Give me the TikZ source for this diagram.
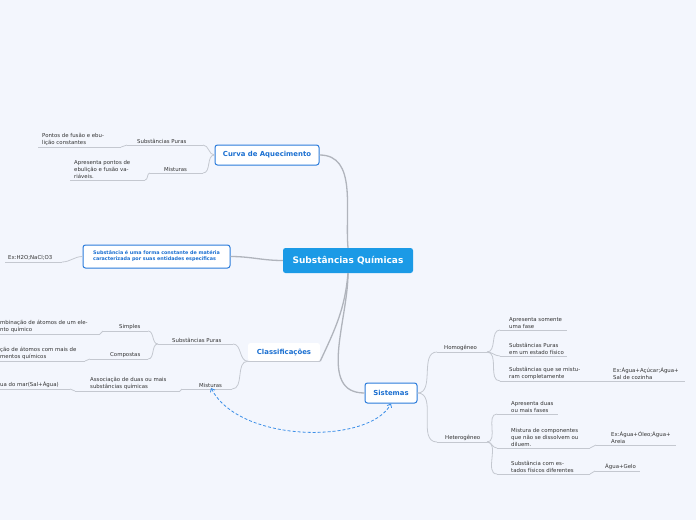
\documentclass[tikz,border=0pt]{standalone}
\usepackage{fontspec}
\setmainfont{DejaVu Sans}
\usetikzlibrary{arrows.meta}
\definecolor{bg}{HTML}{F3F6FD}
\definecolor{mainblue}{HTML}{1B9AE6}
\definecolor{txtblue}{HTML}{1A6FD1}
\definecolor{bordblue}{HTML}{2A7BDB}
\definecolor{linegray}{HTML}{C4C8D0}
\definecolor{trunkgray}{HTML}{B0B4BC}
\definecolor{txt}{HTML}{333333}
\definecolor{dashblue}{HTML}{3C8FE8}
\begin{document}
\begin{tikzpicture}[x=1pt,y=-1pt,
 lbl/.style={font=\fontsize{5.4}{6.9}\selectfont, text=txt, align=left, inner sep=0pt, anchor=south west},
 uline/.style={draw=linegray, line width=0.8pt},
 trunk/.style={draw=trunkgray, line width=1.3pt},
 topic/.style={draw=bordblue, line width=1pt, fill=white, rounded corners=2.5pt, text=txtblue, font=\bfseries\fontsize{6.9}{8}\selectfont, inner sep=0pt},
 dasharrow/.style={draw=dashblue, line width=0.8pt, dash pattern=on 3pt off 2pt, {Straight Barb[length=3pt,width=5pt]}-{Straight Barb[length=3pt,width=5pt]}}
]
\fill[bg] (0,0) rectangle (696,520);
\useasboundingbox (0,0) rectangle (696,520);

% ---- main topics
\node[fill=mainblue, rounded corners=2.5pt, minimum width=130pt, minimum height=25pt, text=white, font=\bfseries\fontsize{9}{10}\selectfont, inner sep=0pt] (root) at (348,260.5) {Substâncias Químicas};
\node[topic, minimum width=104pt, minimum height=20pt] (curva) at (267,155) {Curva de Aquecimento};
\node[topic, minimum width=147pt, minimum height=23pt, font=\bfseries\fontsize{4.85}{5.9}\selectfont, align=left] (def) at (156.5,256.5) {Substância é uma forma constante de matéria\\caracterizada por suas entidades específicas};
\node[fill=white, rounded corners=2.5pt, minimum width=72pt, minimum height=18pt, text=txtblue, font=\bfseries\fontsize{6.9}{8}\selectfont, inner sep=0pt] (class) at (284,352) {Classificações};
\draw[uline] (class.south west) -- (class.south east);
\node[topic, minimum width=52pt, minimum height=20pt] (sist) at (391,393) {Sistemas};

\draw[trunk] (root.north) to[out=95,in=0] (curva.east);
\draw[trunk] (root.west) to[out=180,in=0] (def.east);
\draw[trunk] (root.south) to[out=-95,in=65] (class.south east);
\draw[trunk] (root.south) to[out=-90,in=180] (sist.west);

% ---- Curva de Aquecimento branch
\coordinate (sp1a) at (127,145); \coordinate (sp1b) at (203,145);
\node[lbl] (sp1) at (137,143.7) {Substâncias Puras};
\coordinate (mis1a) at (150,173); \coordinate (mis1b) at (203,173);
\node[lbl] (mis1) at (164,171.7) {Misturas};
\coordinate (pfa) at (38,147); \coordinate (pfb) at (121,147);
\node[lbl] (pf) at (42,145.7) {Pontos de fusão e ebu-\\lição constantes};
\coordinate (apa) at (70,180); \coordinate (apb) at (145,180);
\node[lbl] (ap) at (74,178.7) {Apresenta pontos de\\ebulição e fusão va-\\riáveis.};
\draw[uline] (sp1a) -- (sp1b);
\draw[uline] (mis1a) -- (mis1b);
\draw[uline] (pfa) -- (pfb);
\draw[uline] (apa) -- (apb);
\draw[uline] (curva.west) to[out=180,in=0] (sp1b);
\draw[uline] (curva.west) to[out=180,in=0] (mis1b);
\draw[uline] (sp1a) to[out=180,in=0] (pfb);
\draw[uline] (mis1a) to[out=180,in=0] (apb);

% ---- definition branch
\coordinate (exa) at (5,262); \coordinate (exb) at (62,262);
\node[lbl] (ex) at (8,260.7) {Ex:H2O;NaCl;O3};
\draw[uline] (exa) -- (exb);
\draw[uline] (def.west) to[out=180,in=0] (exb);

% ---- Classificacoes branch
\coordinate (sp2a) at (158,344); \coordinate (sp2b) at (233,344);
\node[lbl] (sp2) at (172,342.7) {Substâncias Puras};
\coordinate (mis2a) at (182,389); \coordinate (mis2b) at (232,389);
\node[lbl] (mis2) at (199,387.7) {Misturas};
\coordinate (simpa) at (103,331); \coordinate (simpb) at (148,331);
\node[lbl] (simp) at (119,329.7) {Simples};
\coordinate (compa) at (90,359); \coordinate (compb) at (148,359);
\node[lbl] (comp) at (110,357.7) {Compostas};
\coordinate (simpca) at (0,334); \coordinate (simpcb) at (100,334);
\node[lbl] (simpc) at (0,332.7) {mbinação de átomos de um ele-\\nto químico};
\coordinate (compca) at (0,361); \coordinate (compcb) at (85,361);
\node[lbl] (compc) at (0,359.7) {ção de átomos com mais de\\mentos químicos};
\coordinate (asa) at (75,391); \coordinate (asb) at (180,391);
\node[lbl] (as) at (90,389.7) {Associação de duas ou mais\\substâncias químicas};
\coordinate (agma) at (0,389); \coordinate (agmb) at (70,389);
\node[lbl] (agm) at (0,387.7) {ua do mar(Sal+Água)};
\foreach \a/\b in {sp2a/sp2b,mis2a/mis2b,simpa/simpb,compa/compb,simpca/simpcb,compca/compcb,asa/asb,agma/agmb}
  \draw[uline] (\a) -- (\b);
\draw[uline] (class.south west) to[out=180,in=0] (sp2b);
\draw[uline] (class.south west) to[out=180,in=0] (mis2b);
\draw[uline] (sp2a) to[out=180,in=0] (simpb);
\draw[uline] (sp2a) to[out=180,in=0] (compb);
\draw[uline] (simpa) to[out=180,in=0] (simpcb);
\draw[uline] (compa) to[out=180,in=0] (compcb);
\draw[uline] (mis2a) to[out=180,in=0] (asb);
\draw[uline] (asa) to[out=180,in=0] (agmb);

% ---- Sistemas branch
\coordinate (homa) at (437,352); \coordinate (homb) at (487,352);
\node[lbl] (hom) at (444,350.7) {Homogêneo};
\coordinate (heta) at (437,442); \coordinate (hetb) at (487,442);
\node[lbl] (het) at (445,440.7) {Heterogêneo};
\coordinate (a1a) at (500,330); \coordinate (a1b) at (567,330);
\node[lbl] (a1) at (509,328.7) {Apresenta somente\\uma fase};
\coordinate (a2a) at (500,356); \coordinate (a2b) at (567,356);
\node[lbl] (a2) at (509,354.7) {Substâncias Puras\\em um estado físico};
\coordinate (a3a) at (500,381); \coordinate (a3b) at (585,381);
\node[lbl] (a3) at (509,379.7) {Substâncias que se mistu-\\ram completamente};
\coordinate (a3cb) at (685,381);
\node[lbl] (a3c) at (613,379.7) {Ex:Água+Açúcar;Água+\\Sal de cozinha};
\coordinate (b1a) at (497,414); \coordinate (b1b) at (558,414);
\node[lbl] (b1) at (511,412.7) {Apresenta duas\\ou mais fases};
\coordinate (b2a) at (497,448); \coordinate (b2b) at (590,448);
\node[lbl] (b2) at (511,446.7) {Mistura de componentes\\que não se dissolvem ou\\diluem.};
\coordinate (b2ca) at (596,445); \coordinate (b2cb) at (676,445);
\node[lbl] (b2c) at (611,443.7) {Ex:Água+Óleo;Água+\\Areia};
\coordinate (b3a) at (497,474); \coordinate (b3b) at (590,474);
\node[lbl] (b3) at (511,472.7) {Substância com es-\\tados físicos diferentes};
\coordinate (b3ca) at (595,471); \coordinate (b3cb) at (640,471);
\node[lbl] (b3c) at (605,469.7) {Água+Gelo};
\foreach \a/\b in {homa/homb,heta/hetb,a1a/a1b,a2a/a2b,a3a/a3b,a3b/a3cb,b1a/b1b,b2a/b2b,b2ca/b2cb,b3a/b3b,b3ca/b3cb}
  \draw[uline] (\a) -- (\b);
\draw[uline] (sist.east) to[out=0,in=180] (homa);
\draw[uline] (sist.east) to[out=0,in=180] (heta);
\draw[uline] (homb) to[out=0,in=180] (a1a);
\draw[uline] (homb) to[out=0,in=180] (a2a);
\draw[uline] (homb) to[out=0,in=180] (a3a);
\draw[uline] (hetb) to[out=0,in=180] (b1a);
\draw[uline] (hetb) to[out=0,in=180] (b2a);
\draw[uline] (hetb) to[out=0,in=180] (b3a);
\draw[uline] (b2b) to[out=0,in=180] (b2ca);
\draw[uline] (b3b) to[out=0,in=180] (b3ca);

% ---- dashed relation
\coordinate (relA) at (211,388);
\draw[dasharrow] (relA) .. controls (240,444) and (370,444) .. (sist.south);
\end{tikzpicture}
\end{document}
